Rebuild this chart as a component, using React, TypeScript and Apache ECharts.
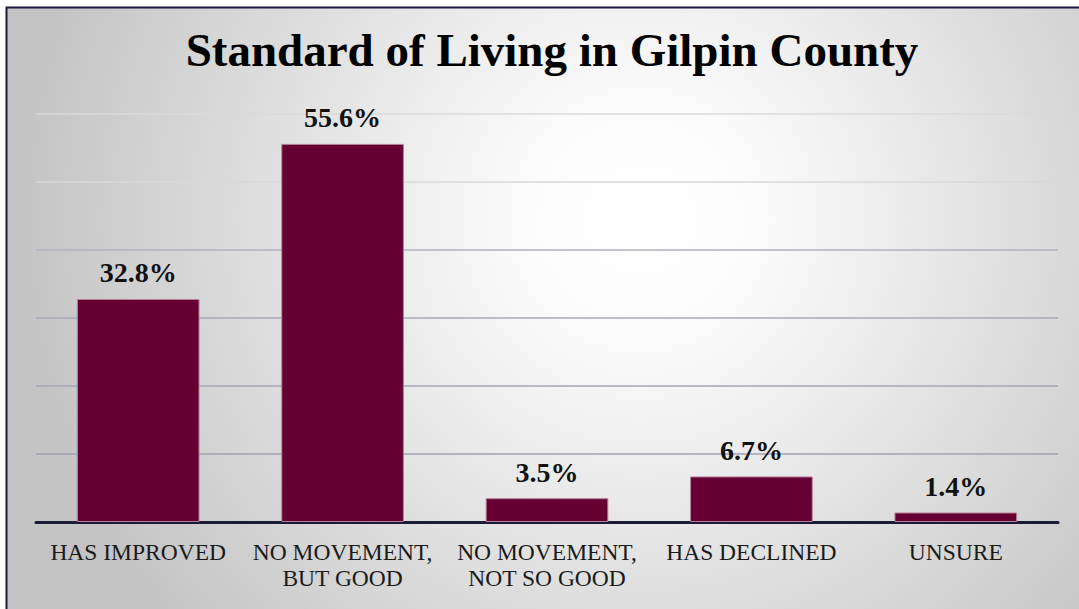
import React, { useEffect, useRef } from "react";
import * as echarts from "echarts";

const titleText = "Standard of Living in Gilpin County";
const categories = [
  "HAS IMPROVED",
  "NO MOVEMENT,\nBUT GOOD",
  "NO MOVEMENT,\nNOT SO GOOD",
  "HAS DECLINED",
  "UNSURE",
];
const values = [32.8, 55.6, 3.5, 6.7, 1.4];
const yMin = 0;
const yMax = 60;
const yStep = 10;
const gridColors = ["#a0a0b4", "#a0a0b4", "#a4a4b8", "#a8a8ba", "#b0b0c0", "#d8d8da", "#dadada"];

export default function App() {
  const ref = useRef<HTMLDivElement>(null);
  useEffect(() => {
    document.body.style.margin = "0";
    const chart = echarts.init(ref.current!, null, { renderer: "svg" });
    const bg = new echarts.graphic.RadialGradient(
      640,
      220,
      620,
      [
        { offset: 0, color: "#ffffff" },
        { offset: 0.18, color: "#fcfcfc" },
        { offset: 1, color: "#c4c4c4" },
      ],
      true
    );
    chart.setOption({
      animation: false,
      backgroundColor: "#ffffff",
      graphic: [
        {
          type: "rect",
          z: -10,
          silent: true,
          shape: { x: 6.5, y: 7.5, width: 1100, height: 700 },
          style: { fill: bg, stroke: "#1b1a3c", lineWidth: 2 },
        },
      ],
      title: {
        text: titleText,
        left: 547,
        textAlign: "center",
        top: 21,
        textStyle: {
          fontFamily: "Liberation Serif",
          fontWeight: "bold",
          fontSize: 47,
          color: "#000000",
        },
      },
      grid: { left: 36, right: 21, top: 114, bottom: 87, containLabel: false },
      xAxis: {
        type: "category",
        data: categories,
        axisLine: { show: true, lineStyle: { color: "#1a1a3a", width: 3 } },
        axisTick: { show: false },
        axisLabel: {
          interval: 0,
          margin: 17,
          fontFamily: "Liberation Serif",
          fontSize: 23.5,
          lineHeight: 26,
          color: "#1a1a1a",
        },
      },
      yAxis: {
        type: "value",
        min: yMin,
        max: yMax,
        interval: yStep,
        axisLabel: { show: false },
        axisLine: { show: false },
        axisTick: { show: false },
        splitLine: { show: true, lineStyle: { color: gridColors, width: 1.5 } },
      },
      series: [
        {
          type: "bar",
          data: values,
          barWidth: "60%",
          itemStyle: { color: "#660033", borderColor: "#b38099", borderWidth: 1 },
          label: {
            show: true,
            position: "top",
            distance: 12,
            formatter: (p: any) => p.value.toFixed(1) + "%",
            fontFamily: "Liberation Serif",
            fontWeight: "bold",
            fontSize: 28,
            color: "#111111",
          },
        },
      ],
    });
    return () => chart.dispose();
  }, []);
  return <div ref={ref} style={{ width: 1079, height: 609 }} />;
}
